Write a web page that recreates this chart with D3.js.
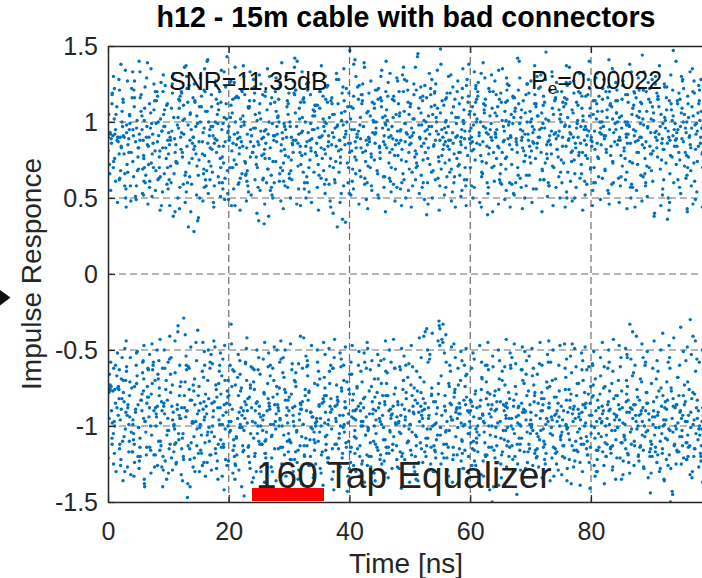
<!DOCTYPE html>
<html><head><meta charset="utf-8">
<script src="https://cdn.jsdelivr.net/npm/d3@7"></script>
<style>html,body{margin:0;padding:0;background:#fff;}svg{display:block;}</style>
</head><body>
<svg id="chart" width="702" height="578"></svg>
<script>
// ---- data (read / estimated from the reference picture) ----
const chartTitle = "h12 - 15m cable with bad connectors";
const xLabel = "Time [ns]";
const yLabel = "Impulse Responce";
const snrText = "SNR=11.35dB";
const peValue = "=0.00022";
const equalizerText = "160 Tap Equalizer";
const xDomain = [0, 100];
const yDomain = [-1.5, 1.5];
const xTickValues = [0, 20, 40, 60, 80];
const yTickValues = [-1.5, -1, -0.5, 0, 0.5, 1, 1.5];
const yTickLabels = ["-1.5", "-1", "-0.5", "0", "0.5", "1", "1.5"];

// first set of samples: times [ns] and equalizer outputs for the +1 / -1 symbols
const sampleTimes = [
.37,.05,.81,.52,.18,.94,.66,.29,
1.73,1.12,1.48,1.91,1.26,1.6,1.03,1.84,
2.55,2.88,2.21,2.09,2.67,2.34,2.97,2.42,
3.16,3.63,3.99,3.31,3.78,3.07,3.45,3.58,
4.82,4.24,4.57,4.4,4.96,4.13,4.71,4.35,
5.08,5.49,5.75,5.19,5.62,5.87,5.3,5.93,
6.44,6.92,6.14,6.68,6.02,6.53,6.79,6.26,
7.61,7.33,7.86,7.04,7.47,7.72,7.17,7.98,
8.27,8.7,8.39,8.85,8.11,8.59,8.95,8.5,
9.9,9.15,9.64,9.23,9.76,9.41,9.06,9.83,
10.37,10.05,10.81,10.52,10.18,10.94,10.66,10.29,
11.73,11.12,11.48,11.91,11.26,11.6,11.03,11.84,
12.55,12.88,12.21,12.09,12.67,12.34,12.97,12.42,
13.16,13.63,13.99,13.31,13.78,13.07,13.45,13.58,
14.82,14.24,14.57,14.4,14.96,14.13,14.71,14.35,
15.08,15.49,15.75,15.19,15.62,15.87,15.3,15.93,
16.44,16.92,16.14,16.68,16.02,16.53,16.79,16.26,
17.61,17.33,17.86,17.04,17.47,17.72,17.17,17.98,
18.27,18.7,18.39,18.85,18.11,18.59,18.95,18.5,
19.9,19.15,19.64,19.23,19.76,19.41,19.06,19.83,
20.37,20.05,20.81,20.52,20.18,20.94,20.66,20.29,
21.73,21.12,21.48,21.91,21.26,21.6,21.03,21.84,
22.55,22.88,22.21,22.09,22.67,22.34,22.97,22.42,
23.16,23.63,23.99,23.31,23.78,23.07,23.45,23.58,
24.82,24.24,24.57,24.4,24.96,24.13,24.71,24.35,
25.08,25.49,25.75,25.19,25.62,25.87,25.3,25.93,
26.44,26.92,26.14,26.68,26.02,26.53,26.79,26.26,
27.61,27.33,27.86,27.04,27.47,27.72,27.17,27.98,
28.27,28.7,28.39,28.85,28.11,28.59,28.95,28.5,
29.9,29.15,29.64,29.23,29.76,29.41,29.06,29.83,
30.37,30.05,30.81,30.52,30.18,30.94,30.66,30.29,
31.73,31.12,31.48,31.91,31.26,31.6,31.03,31.84,
32.55,32.88,32.21,32.09,32.67,32.34,32.97,32.42,
33.16,33.63,33.99,33.31,33.78,33.07,33.45,33.58,
34.82,34.24,34.57,34.4,34.96,34.13,34.71,34.35,
35.08,35.49,35.75,35.19,35.62,35.87,35.3,35.93,
36.44,36.92,36.14,36.68,36.02,36.53,36.79,36.26,
37.61,37.33,37.86,37.04,37.47,37.72,37.17,37.98,
38.27,38.7,38.39,38.85,38.11,38.59,38.95,38.5,
39.9,39.15,39.64,39.23,39.76,39.41,39.06,39.83,
40.37,40.05,40.81,40.52,40.18,40.94,40.66,40.29,
41.73,41.12,41.48,41.91,41.26,41.6,41.03,41.84,
42.55,42.88,42.21,42.09,42.67,42.34,42.97,42.42,
43.16,43.63,43.99,43.31,43.78,43.07,43.45,43.58,
44.82,44.24,44.57,44.4,44.96,44.13,44.71,44.35,
45.08,45.49,45.75,45.19,45.62,45.87,45.3,45.93,
46.44,46.92,46.14,46.68,46.02,46.53,46.79,46.26,
47.61,47.33,47.86,47.04,47.47,47.72,47.17,47.98,
48.27,48.7,48.39,48.85,48.11,48.59,48.95,48.5,
49.9,49.15,49.64,49.23,49.76,49.41,49.06,49.83,
50.37,50.05,50.81,50.52,50.18,50.94,50.66,50.29,
51.73,51.12,51.48,51.91,51.26,51.6,51.03,51.84,
52.55,52.88,52.21,52.09,52.67,52.34,52.97,52.42,
53.16,53.63,53.99,53.31,53.78,53.07,53.45,53.58,
54.82,54.24,54.57,54.4,54.96,54.13,54.71,54.35,
55.08,55.49,55.75,55.19,55.62,55.87,55.3,55.93,
56.44,56.92,56.14,56.68,56.02,56.53,56.79,56.26,
57.61,57.33,57.86,57.04,57.47,57.72,57.17,57.98,
58.27,58.7,58.39,58.85,58.11,58.59,58.95,58.5,
59.9,59.15,59.64,59.23,59.76,59.41,59.06,59.83,
60.37,60.05,60.81,60.52,60.18,60.94,60.66,60.29,
61.73,61.12,61.48,61.91,61.26,61.6,61.03,61.84,
62.55,62.88,62.21,62.09,62.67,62.34,62.97,62.42,
63.16,63.63,63.99,63.31,63.78,63.07,63.45,63.58,
64.82,64.24,64.57,64.4,64.96,64.13,64.71,64.35,
65.08,65.49,65.75,65.19,65.62,65.87,65.3,65.93,
66.44,66.92,66.14,66.68,66.02,66.53,66.79,66.26,
67.61,67.33,67.86,67.04,67.47,67.72,67.17,67.98,
68.27,68.7,68.39,68.85,68.11,68.59,68.95,68.5,
69.9,69.15,69.64,69.23,69.76,69.41,69.06,69.83,
70.37,70.05,70.81,70.52,70.18,70.94,70.66,70.29,
71.73,71.12,71.48,71.91,71.26,71.6,71.03,71.84,
72.55,72.88,72.21,72.09,72.67,72.34,72.97,72.42,
73.16,73.63,73.99,73.31,73.78,73.07,73.45,73.58,
74.82,74.24,74.57,74.4,74.96,74.13,74.71,74.35,
75.08,75.49,75.75,75.19,75.62,75.87,75.3,75.93,
76.44,76.92,76.14,76.68,76.02,76.53,76.79,76.26,
77.61,77.33,77.86,77.04,77.47,77.72,77.17,77.98,
78.27,78.7,78.39,78.85,78.11,78.59,78.95,78.5,
79.9,79.15,79.64,79.23,79.76,79.41,79.06,79.83,
80.37,80.05,80.81,80.52,80.18,80.94,80.66,80.29,
81.73,81.12,81.48,81.91,81.26,81.6,81.03,81.84,
82.55,82.88,82.21,82.09,82.67,82.34,82.97,82.42,
83.16,83.63,83.99,83.31,83.78,83.07,83.45,83.58,
84.82,84.24,84.57,84.4,84.96,84.13,84.71,84.35,
85.08,85.49,85.75,85.19,85.62,85.87,85.3,85.93,
86.44,86.92,86.14,86.68,86.02,86.53,86.79,86.26,
87.61,87.33,87.86,87.04,87.47,87.72,87.17,87.98,
88.27,88.7,88.39,88.85,88.11,88.59,88.95,88.5,
89.9,89.15,89.64,89.23,89.76,89.41,89.06,89.83,
90.37,90.05,90.81,90.52,90.18,90.94,90.66,90.29,
91.73,91.12,91.48,91.91,91.26,91.6,91.03,91.84,
92.55,92.88,92.21,92.09,92.67,92.34,92.97,92.42,
93.16,93.63,93.99,93.31,93.78,93.07,93.45,93.58,
94.82,94.24,94.57,94.4,94.96,94.13,94.71,94.35,
95.08,95.49,95.75,95.19,95.62,95.87,95.3,95.93,
96.44,96.92,96.14,96.68,96.02,96.53,96.79,96.26,
97.61,97.33,97.86,97.04,97.47,97.72,97.17,97.98,
98.27,98.7,98.39,98.85,98.11,98.59,98.95,98.5
];

const upperLevels = [
.92,.9,.91,.89,.93,.74,1.12,.66,
.9,.92,.88,1.21,.61,.9,1.02,.79,
.91,1.34,.83,.68,.9,1.07,.56,.97,
.72,.99,1.16,.85,.48,.93,.8,1.05,
1.01,.64,.87,1.27,.77,.95,.58,1.1,
.83,1.18,.69,.92,1.04,.52,.88,.76,
.97,.61,1.23,.84,.7,1.39,.9,.65,
1.08,.79,.55,.96,.86,1.14,.73,.99,
.62,1.02,.91,.45,1.2,.81,.94,.7,
.88,1.31,.76,1.05,.59,.97,.83,1.12,
.71,.93,.38,1.09,.85,.66,1.25,.9,
1.15,.8,.98,.57,.74,1.03,.89,.43,
.92,.67,1.19,.82,1.36,.77,.54,1.01,
.6,1.06,.86,.31,.95,1.22,.73,.88,
.99,.28,.79,1.13,.65,.9,1.04,.84,
.75,1.17,.93,.5,.87,.69,1.29,.96,
1.07,.83,.62,1,.78,1.41,.91,.58,
.86,.97,1.24,.71,.47,.89,1.1,.8,
.64,1.13,.84,.95,1.05,.76,.6,1.2,
.94,.73,1.02,1.33,.68,.87,.99,.53,
1.11,.88,.56,.81,1.26,.92,.7,1.03,
.79,1,.93,.63,.85,1.16,.45,.9,
.98,.66,1.2,.87,.74,1.04,.83,1.37,
.58,.95,.8,1.09,.91,.68,1.14,.77,
.87,1.23,.72,.96,.35,.84,1.01,.62,
1.06,.78,.9,.55,1.18,.33,.94,.82,
.69,1.12,.86,1,.76,.92,1.3,.6,
.91,.74,1.07,.65,.88,1.2,.52,.97,
1.15,.85,.61,.93,1.03,.7,.89,1.26,
.77,.99,1.1,.82,.57,.95,.73,1.05,
.9,.63,1.19,.86,.97,1.42,.8,.68,
1.02,.88,.71,1.13,.46,.92,1.06,.84,
.6,1.25,.94,.78,1,.67,.87,1.16,
.93,.81,1.08,.54,.89,1.21,.75,.99,
.72,1.04,.86,1.32,.65,.95,1.11,.8,
1.09,.76,.97,.9,1.17,.59,.83,1,
.84,1.14,.62,1.03,.79,.91,.48,1.23,
.96,.7,1.28,.85,1.05,.74,.93,.31,
.67,1.01,.88,.36,1.12,.82,.98,.77,
1.19,.9,.73,1.07,.6,.94,1.35,.86,
.81,1.47,.95,.69,1.02,.87,.56,1.1,
.98,.75,1.15,.83,.92,1.24,.66,.89,
.63,1.06,.8,1.18,.74,.97,.85,1.39,
.9,.58,1,.87,1.13,.71,1.04,.79,
1.22,.86,.68,.96,.83,1.09,.52,.93,
.76,1.03,.91,1.3,.64,.85,1.14,.99,
.95,.7,1.08,.8,1.2,.9,.61,1.01,
.85,1.17,.57,.97,.78,1.05,.89,1.27,
1.04,.82,.94,.66,1.12,.75,1.36,.88,
.69,.99,1.21,.87,.55,.93,1.07,.8,
.91,1.1,.77,1.02,.86,.62,1.25,.96,
1.16,.73,.98,.84,1.43,.9,.7,1.06,
.8,.95,.6,1.14,.89,1.01,.76,.49,
.97,1.28,.85,.72,1.05,.83,1.18,.67,
.74,.88,1.09,.94,.58,1.2,.92,1.03,
1.48,.82,.96,.69,1.11,.87,.78,1,
.88,1.06,.64,1.19,.93,.75,1.31,.84,
1.03,.79,.91,.54,1.15,.99,.86,.71,
.65,1.22,.87,1.01,.8,.95,1.08,.9,
.94,.7,1.13,.83,1.38,.62,.89,1.05,
1.1,.86,.75,.98,.9,1.24,.57,.81,
.78,1.02,.93,.67,1.17,.85,1,.44,
.96,.39,1.12,.87,.73,1.06,.92,1.29,
.83,1.09,.61,.95,1.2,.79,.99,.7,
1.15,.9,.84,1.04,.66,.93,1.34,.76,
.72,.97,1.07,.59,.88,1.13,.8,1.01,
1,.82,1.25,.91,.77,.6,1.05,.89,
.87,1.16,.7,.99,1.09,.85,.53,1.21,
.63,.94,1.03,.81,1.4,.9,.74,1.08,
1.07,.78,.88,1.18,.65,1,.92,.84,
.93,1.27,.76,.86,1.02,.56,1.12,.97,
.8,1.04,.95,.69,.9,1.23,.83,1.06,
1.46,.87,.62,1.11,.79,.96,1.01,.73,
.91,.71,1.14,.85,1.05,.58,.94,1.3,
1.02,.89,.77,1.2,.67,.93,1.08,.82,
.75,1.1,.98,.6,1.16,.84,.9,1.37,
.97,.81,1.03,.92,.5,1.26,.74,.88,
1.13,.66,.9,1.06,.83,.99,1.19,.78,
.86,1.01,.72,.95,1.32,.8,.61,1.09,
.69,1.17,.94,.85,1.04,.76,.97,1.22,
1.05,.9,1.29,.7,.87,1.12,.82,.55,
.92,.77,1,1.15,.64,.96,.86,1.07,
.8,1.23,.89,.97,1.08,.68,1.41,.91,
1.11,.73,.99,.84,.93,1.2,.59,1.02,
.88,1.06,.63,1.14,.78,.95,1.03,.85,
.96,.83,1.18,.71,1,.9,1.27,.67,
.74,1.09,.92,1.33,.86,.57,1.05,.98,
1.04,.87,.8,.95,1.16,.72,.91,1.21,
.65,.98,1.12,.83,.9,1.02,.76,1.44,
.93,1.2,.7,1.07,.84,.97,.6,1.13,
1.01,.79,.94,.4,1.1,.88,1.25,.81,
.86,1.15,.69,.99,.92,1.05,.77,.52,
1.23,.9,1.03,.82,.36,.96,1.14,.73,
.78,1.47,.88,1.08,.95,.66,1.01,.91,
.97,.84,1.19,.62,1.06,.89,.75,1.12,
1.09,.71,.93,1.28,.8,1,.87,.43,
.85,1.04,.77,.96,1.17,.68,1.35,.9,
.94,.82,1.12,.73,.99,1.06,.61,1.21,
1.07,.91,.79,1.15,.86,.98,1.3,.7
];

const lowerLevels = [
-.76,-.75,-.77,-.74,-.95,-.62,-1.08,-.77,
-.74,-.76,-.88,-1.15,-.6,-.75,-.97,-.82,
-.78,-1.02,-.69,-1.26,-.84,-.55,-.91,-1.1,
-.93,-.71,-1.17,-.86,-1.32,-.64,-.99,-.8,
-.67,-1.05,-.89,-.74,-1.2,-.96,-.52,-1.12,
-1.01,-.83,-.58,-1.23,-.9,-.77,-1.08,-.69,
-.85,-1.14,-.97,-.63,-1.38,-.81,-.94,-1.04,
-1.19,-.72,-.88,-1,-.6,-1.27,-.79,-.92,
-.66,-.98,-1.1,-.84,-.5,-1.16,-.9,-.75,
-.95,-1.29,-.7,-.87,-1.06,-.62,-1.4,-.83,
-.78,-1.03,-.91,-1.21,-.56,-.99,-.73,-1.12,
-1.09,-.65,-.86,-.95,-1.25,-.34,-1.02,-.8,
-.29,-.94,-1.15,-.71,-.88,-1.36,-.6,-1.05,
-1.47,-.83,-.97,-.61,-1.11,-.9,-.76,-1.22,
-.92,-1.07,-.45,-1.3,-.8,-.98,-1.13,-.69,
-.74,-1.18,-.89,-1.01,-.64,-1.24,-.85,-.96,
-1.06,-.58,-1.33,-.82,-.94,-.7,-1.1,-.87,
-.84,-1,-.73,-1.19,-.9,-.48,-1.04,-1.28,
-1.12,-.79,-.96,-.67,-1.23,-.88,-.99,-.6,
-.7,-1.14,-.85,-1.42,-.77,-1.02,-.93,-.81,
-.33,-.97,-1.09,-.74,-.86,-1.2,-.63,-1.03,
-.91,-1.26,-.68,-.99,-1.07,-.8,-1.35,-.57,
-1.46,-.86,-1.01,-.75,-.95,-1.17,-.7,-.9,
-.82,-1.05,-.62,-1.13,-.88,-.98,-1.24,-.73,
-1,-.76,-1.3,-.9,-.55,-1.08,-.84,-1.18,
-.87,-1.12,-.93,-.66,-1.03,-.79,-.94,-1.37,
-.72,-.99,-1.21,-.85,-1.1,-.61,-.89,-1.04,
-1.15,-.81,-.92,-1.27,-.7,-.97,-1.06,-.5,
-.9,-1.32,-.75,-1,-.86,-1.14,-.65,-.96,
-1.05,-.68,-.88,-1.19,-.98,-.78,-1.44,-.83,
-.79,-1.09,-1,-.59,-1.22,-.87,-.93,-1.11,
-.96,-.74,-1.16,-.89,-1.03,-1.29,-.71,-.85,
-1.2,-.9,-.62,-1.07,-.8,-.99,-1.13,-.42,
-.83,-1.01,-1.34,-.77,-.94,-.67,-1.09,-.91,
-1.1,-.72,-.97,-1.25,-.86,-1.04,-.58,-.98,
-.69,-1.17,-.84,-.95,-1.39,-.8,-1,-.75,
-.99,-.82,-1.12,-.64,-.91,-1.21,-.87,-1.06,
-.87,-1.3,-.73,-1.02,-.55,-.95,-1.15,-.81,
-1.08,-.77,-.93,-1.18,-.84,-.61,-1.01,-1.27,
-.76,-1.04,-1.43,-.88,-.98,-1.11,-.7,-.92,
-.94,-.66,-1.07,-.83,-1.24,-.9,-.79,-1.14,
-1.13,-.89,-.6,-1,-.75,-1.33,-.96,-.85,
-.81,-1.19,-.97,-.71,-1.06,-.88,-1.26,-.52,
-1.02,-.74,-1.1,-.92,-.84,-1.01,-.63,-1.2,
-.88,-1.36,-.78,-1.05,-.95,-.69,-1.16,-.9,
-.97,-.8,-1.23,-.57,-1.09,-.86,-.99,-1.31,
-1.14,-.93,-.72,-1.03,-.8,-1.18,-.89,-.65,
-.75,-1.07,-.94,-1.28,-.62,-.99,-1.12,-.84,
-1.04,-.86,-1.17,-.76,-.98,-1.41,-.7,-.93,
-.9,-1.22,-.68,-.96,-1.1,-.82,-1,-.59,
-.8,-.99,-1.3,-.87,-.73,-1.06,-.92,-1.19,
-1.11,-.64,-.91,-1.15,-.85,-.97,-1.35,-.78,
-.38,-1.02,-.82,-.95,-1.2,-.71,-1.08,-.89,
-.93,-.75,-1.13,-.53,-1,-.88,-1.25,-.8,
-.31,-.84,-1.06,-.92,-.47,-1.16,-.79,-.98,
-1.01,-.33,-.87,-.67,-1.12,-.9,-.43,-1.04,
-.72,-.96,-1.21,-.85,-.58,-1.03,-.94,-1.29,
-1.07,-.81,-.95,-1.37,-.76,-.89,-1.14,-.62,
-.88,-1.18,-.7,-1,-.92,-1.09,-.83,-1.23,
-.97,-.74,-1.05,-.86,-1.31,-.66,-.99,-.91,
-1.15,-.9,-.79,-1.1,-.84,-1.02,-.56,-1.26,
-.83,-1.04,-.95,-.68,-1.17,-.87,-1.08,-.76,
-1.2,-.78,-1.33,-.93,-.71,-.98,-.86,-1.11,
-.92,-1.5,-.8,-1.06,-.61,-1.14,-.94,-1,
-.69,-1.01,-1.24,-.84,-.97,-.77,-1.39,-.89,
-1.08,-.86,-.73,-1.19,-.9,-1.03,-.64,-.95,
-.95,-1.13,-.88,-.6,-1.27,-.82,-1,-1.1,
-.79,-1.05,-.98,-1.22,-.74,-1.45,-.87,-.93,
-1.12,-.7,-1,-.89,-1.08,-.63,-1.17,-.85,
-.86,-1.28,-.77,-.96,-.54,-1.04,-.91,-1.15,
-1.03,-.91,-1.16,-.73,-.99,-1.21,-.8,-.67,
-.9,-.66,-1.09,-1.34,-.85,-.95,-1.05,-.78,
-1.18,-.97,-.82,-1.02,-.71,-1.12,-.88,-1.25,
-.74,-1.06,-.93,-.58,-1.14,-.85,-1.01,-.96,
-1,-.81,-1.29,-.9,-1.07,-.69,-.94,-1.17,
-.87,-1.13,-.76,-1.04,-.46,-.99,-1.2,-.83,
-1.09,-.92,-1.01,-.79,-1.36,-.88,-.65,-1.05,
-.8,-1.23,-.89,-.97,-1.1,-.72,-1.16,-.94,
-.96,-.7,-1.12,-.86,-1.02,-1.3,-.78,-.91,
-1.14,-.85,-.61,-1.07,-.93,-1.19,-.88,-1.41,
-.73,-1,-.9,-1.26,-.81,-.97,-1.08,-.6,
-.98,-1.16,-.79,-.92,-1.05,-.67,-1.22,-.87,
-1.06,-.84,-1.38,-.75,-.95,-1.11,-.9,-1,
-.89,-.64,-1.03,-1.18,-.82,-.99,-.72,-1.13,
-1.21,-.93,-.86,-1.01,-.55,-1.09,-.96,-.8,
-.77,-1.07,-1.15,-.88,-.99,-.7,-1.32,-.91,
-.33,-.95,-.83,-1.12,-.74,-1.04,-.89,-1.24,
-1.02,-.86,-1.19,-.65,-.97,-.81,-1.1,-.93,
-.92,-1.27,-.71,-1,-1.14,-.88,-.6,-1.06,
-1.1,-.78,-.96,-.85,-1.2,-1.03,-.9,-1.44,
-.84,-1.12,-.69,-1.06,-.94,-.57,-1.17,-.99,
-1.05,-.91,-1.28,-.8,-1.01,-.75,-.93,-1.15,
-.71,-1.02,-.88,-1.35,-.83,-1.08,-1.19,-.96,
-1.5,-.87,-1,-.77,-1.13,-.62,-.95,-1.04,
-.9,-1.16,-.8,-.98,-1.25,-.86,-1.07,-.68,
-1.03,-.73,-1.11,-.93,-.84,-1.22,-.51,-.97,
-.3,-.99,-1.14,-.82,-1.06,-.91,-1.3,-.76,
-.95,-.64,-1.02,-1.2,-.88,-1.09,-.79,-1,
-1.13,-.86,-.97,-.72,-1.18,-.93,-1.05,-1.37
];

// second set of samples
const moreTimes = [
.58,.13,.89,.36,.71,.02,
1.24,1.95,1.47,1.69,1.1,1.81,
2.66,2.31,2.04,2.77,2.52,2.19,
3.93,3.44,3.27,3.08,3.85,3.6,
4.12,4.74,4.39,4.98,4.55,4.21,
5.47,5.06,5.83,5.29,5.64,5.9,
6.35,6.87,6.16,6.53,6.01,6.72,
7.79,7.22,7.61,7.94,7.4,7.07,
8.03,8.5,8.92,8.18,8.67,8.33,
9.86,9.38,9.57,9.11,9.25,9.96,
10.58,10.13,10.89,10.36,10.71,10.02,
11.24,11.95,11.47,11.69,11.1,11.81,
12.66,12.31,12.04,12.77,12.52,12.19,
13.93,13.44,13.27,13.08,13.85,13.6,
14.12,14.74,14.39,14.98,14.55,14.21,
15.47,15.06,15.83,15.29,15.64,15.9,
16.35,16.87,16.16,16.53,16.01,16.72,
17.79,17.22,17.61,17.94,17.4,17.07,
18.03,18.5,18.92,18.18,18.67,18.33,
19.86,19.38,19.57,19.11,19.25,19.96,
20.58,20.13,20.89,20.36,20.71,20.02,
21.24,21.95,21.47,21.69,21.1,21.81,
22.66,22.31,22.04,22.77,22.52,22.19,
23.93,23.44,23.27,23.08,23.85,23.6,
24.12,24.74,24.39,24.98,24.55,24.21,
25.47,25.06,25.83,25.29,25.64,25.9,
26.35,26.87,26.16,26.53,26.01,26.72,
27.79,27.22,27.61,27.94,27.4,27.07,
28.03,28.5,28.92,28.18,28.67,28.33,
29.86,29.38,29.57,29.11,29.25,29.96,
30.58,30.13,30.89,30.36,30.71,30.02,
31.24,31.95,31.47,31.69,31.1,31.81,
32.66,32.31,32.04,32.77,32.52,32.19,
33.93,33.44,33.27,33.08,33.85,33.6,
34.12,34.74,34.39,34.98,34.55,34.21,
35.47,35.06,35.83,35.29,35.64,35.9,
36.35,36.87,36.16,36.53,36.01,36.72,
37.79,37.22,37.61,37.94,37.4,37.07,
38.03,38.5,38.92,38.18,38.67,38.33,
39.86,39.38,39.57,39.11,39.25,39.96,
40.58,40.13,40.89,40.36,40.71,40.02,
41.24,41.95,41.47,41.69,41.1,41.81,
42.66,42.31,42.04,42.77,42.52,42.19,
43.93,43.44,43.27,43.08,43.85,43.6,
44.12,44.74,44.39,44.98,44.55,44.21,
45.47,45.06,45.83,45.29,45.64,45.9,
46.35,46.87,46.16,46.53,46.01,46.72,
47.79,47.22,47.61,47.94,47.4,47.07,
48.03,48.5,48.92,48.18,48.67,48.33,
49.86,49.38,49.57,49.11,49.25,49.96,
50.58,50.13,50.89,50.36,50.71,50.02,
51.24,51.95,51.47,51.69,51.1,51.81,
52.66,52.31,52.04,52.77,52.52,52.19,
53.93,53.44,53.27,53.08,53.85,53.6,
54.12,54.74,54.39,54.98,54.55,54.21,
55.47,55.06,55.83,55.29,55.64,55.9,
56.35,56.87,56.16,56.53,56.01,56.72,
57.79,57.22,57.61,57.94,57.4,57.07,
58.03,58.5,58.92,58.18,58.67,58.33,
59.86,59.38,59.57,59.11,59.25,59.96,
60.58,60.13,60.89,60.36,60.71,60.02,
61.24,61.95,61.47,61.69,61.1,61.81,
62.66,62.31,62.04,62.77,62.52,62.19,
63.93,63.44,63.27,63.08,63.85,63.6,
64.12,64.74,64.39,64.98,64.55,64.21,
65.47,65.06,65.83,65.29,65.64,65.9,
66.35,66.87,66.16,66.53,66.01,66.72,
67.79,67.22,67.61,67.94,67.4,67.07,
68.03,68.5,68.92,68.18,68.67,68.33,
69.86,69.38,69.57,69.11,69.25,69.96,
70.58,70.13,70.89,70.36,70.71,70.02,
71.24,71.95,71.47,71.69,71.1,71.81,
72.66,72.31,72.04,72.77,72.52,72.19,
73.93,73.44,73.27,73.08,73.85,73.6,
74.12,74.74,74.39,74.98,74.55,74.21,
75.47,75.06,75.83,75.29,75.64,75.9,
76.35,76.87,76.16,76.53,76.01,76.72,
77.79,77.22,77.61,77.94,77.4,77.07,
78.03,78.5,78.92,78.18,78.67,78.33,
79.86,79.38,79.57,79.11,79.25,79.96,
80.58,80.13,80.89,80.36,80.71,80.02,
81.24,81.95,81.47,81.69,81.1,81.81,
82.66,82.31,82.04,82.77,82.52,82.19,
83.93,83.44,83.27,83.08,83.85,83.6,
84.12,84.74,84.39,84.98,84.55,84.21,
85.47,85.06,85.83,85.29,85.64,85.9,
86.35,86.87,86.16,86.53,86.01,86.72,
87.79,87.22,87.61,87.94,87.4,87.07,
88.03,88.5,88.92,88.18,88.67,88.33,
89.86,89.38,89.57,89.11,89.25,89.96,
90.58,90.13,90.89,90.36,90.71,90.02,
91.24,91.95,91.47,91.69,91.1,91.81,
92.66,92.31,92.04,92.77,92.52,92.19,
93.93,93.44,93.27,93.08,93.85,93.6,
94.12,94.74,94.39,94.98,94.55,94.21,
95.47,95.06,95.83,95.29,95.64,95.9,
96.35,96.87,96.16,96.53,96.01,96.72,
97.79,97.22,97.61,97.94,97.4,97.07,
98.03,98.5,98.92,98.18,98.67,98.33
];

const moreUpper = [
.86,1.05,.7,.93,1.19,.81,
.95,.63,1.1,.87,.76,1.28,
.79,1,.9,.58,1.13,.84,
1.22,.89,.67,.98,.8,1.04,
.74,.96,1.16,.83,.51,.91,
1.07,.69,.88,1.33,.95,.78,
.9,1.12,.6,.85,1.01,.72,
.81,.99,1.25,.68,.92,1.06,
1.14,.77,.94,.87,.64,1,
.7,1.08,.83,1.2,.97,.56,
.94,.62,1.03,.88,1.3,.79,
.85,1.17,.73,.96,.41,1.09,
1.02,.8,.9,.65,1.11,.93,
.76,1.24,.98,.84,.59,1.05,
.9,.71,1.14,.37,.97,.82,
1.1,.87,.66,1,.79,1.21,
.68,.95,1.07,.86,1.35,.74,
1,.82,.58,1.15,.91,.97,
.88,1.2,.77,.99,.7,1.08,
.93,.63,1.12,.84,1.03,.49,
1.06,.9,.75,1.27,.86,.97,
.72,1.02,.89,.6,1.16,.83,
1.18,.84,.97,.73,1,.66,
.8,1.1,.54,.92,1.22,.87,
.96,.7,1.05,.85,.77,1.14,
.89,1.31,.79,1.02,.62,.94,
1.08,.83,.95,.69,1.17,.76,
.74,.99,1.13,.87,.91,.57,
.92,1.24,.68,1.04,.81,1,
1.12,.78,.9,.61,.97,1.19,
.85,1,1.36,.75,.88,.66,
.97,.72,.86,1.09,1.21,.8,
.79,1.15,.93,.84,.56,1.03,
1.04,.88,.7,1.26,.95,.83,
.67,.96,1.11,.9,.78,1.07,
.91,1.2,.82,.63,1.02,.94,
1.13,.76,.99,.87,1.3,.71,
.84,1.05,.6,.97,.9,1.16,
.98,.73,1.23,.81,1.06,.88,
.7,.92,1,1.14,.85,.53,
1.09,.86,.77,.95,1.38,.8,
.9,1.18,.94,.68,.83,1.03,
.81,.97,1.12,.88,.59,1.25,
1.01,.7,.89,1.07,.93,.77,
.75,1.15,1,.84,1.21,.92,
.96,.8,.64,1.1,.87,1.04,
1.17,.91,.83,.73,.98,1.32,
.88,1.03,.69,.94,1.14,.82,
.78,.95,1.2,.86,.6,1.06,
1.05,.74,.92,1.28,.99,.85,
.93,1.12,.81,.67,1.02,.9,
.71,.98,1.09,.89,.79,1.23,
1,.86,.57,1.16,.94,.75,
.84,1.22,.92,1.04,.68,.97,
1.11,.77,1,.88,1.34,.62,
.9,1.06,.73,.95,.85,1.15,
.97,.69,1.19,.82,1.01,.88,
.76,1.1,.9,1.27,.64,.93,
1.03,.85,.99,.72,1.16,.8,
.89,1.24,.78,.94,.58,1.07,
.82,.96,1.13,.87,1.05,.7,
1.2,.74,.91,1,.86,1.32,
.93,1.08,.66,.84,1.15,.97,
.71,.9,1.04,1.22,.8,.88,
1.06,.83,.95,.6,1.1,.92,
.87,1.19,.76,1.01,.94,.69,
.98,.72,1.14,.85,1.29,.9,
.8,1.03,.89,.65,1.07,1.17,
1.12,.88,.74,.99,.83,.95,
.77,1.25,.92,1.06,.58,1,
.95,.81,1.1,.87,1.18,.73,
1.04,.68,.9,1.31,.86,.96,
.85,1.13,.99,.76,1.02,.62,
.92,.79,1.21,.88,.7,1.09,
1.16,.94,.82,1.05,.91,.57,
.73,1,1.12,.84,.97,1.26,
.89,1.08,.67,.93,1.15,.8,
1.01,.75,.96,1.2,.86,.9,
.8,1.17,.88,.63,1.04,.97,
1.09,.91,1.28,.78,.95,.7,
.94,.84,1.02,1.14,.6,.88,
.76,1.22,.93,.85,1.07,1,
1.03,.69,.97,1.16,.82,.91,
.87,1.1,.78,.95,1.33,.74,
1.14,.9,1,.64,.88,1.06,
.81,1.04,.92,1.24,.76,.98,
.97,.73,1.13,.86,1,.59,
.88,1.19,.8,1.03,.94,1.11,
1.07,.85,.66,.99,1.21,.9,
.79,.96,1.15,.87,.71,1.02,
.93,1.28,.83,1.06,.9,.68,
1.1,.82,.97,.75,1.17,.89,
.86,1.01,.62,.94,1.08,1.23,
.99,.77,1.12,.88,.84,1.04,
.72,1.15,.95,1.3,.8,.93,
1.05,.89,.78,1,.96,.65,
.91,1.2,1.03,.83,.7,1.1,
.84,.98,.74,1.14,.92,1.27,
1.01,.8,1.18,.9,.67,.96
];

const moreLower = [
-.9,-.78,-1.05,-.73,-.98,-1.21,
-.85,-1.12,-.67,-.93,-1,-.76,
-1.07,-.82,-.96,-1.3,-.7,-.89,
-.75,-1.17,-.88,-.61,-1.04,-.94,
-.99,-.72,-1.24,-.86,-.91,-1.09,
-.83,-1.01,-.57,-1.14,-.79,-.95,
-1.19,-.88,-.97,-.74,-1.35,-.81,
-.7,-1.06,-.9,-1,-.63,-1.16,
-.94,-.8,-1.27,-.87,-1.1,-.69,
-1.03,-.92,-.76,-1.2,-.85,-.58,
-.87,-1.15,-1,-.66,-.96,-1.31,
-1.11,-.74,-.89,-1.05,-.44,-.93,
-.8,-1.08,-.95,-.71,-1.22,-.88,
-.98,-.62,-1.13,-.9,-.83,-1.4,
-.73,-1.02,-.86,-1.18,-.97,-.77,
-1.06,-.9,-.68,-.99,-1.26,-.84,
-.92,-1.19,-.79,-1.04,-.6,-1.01,
-1.15,-.85,-1.07,-.76,-.94,-.53,
-.81,-.99,-1.33,-.88,-1.09,-.72,
-1,-.7,-.91,-1.12,-.86,-1.23,
-.89,-1.04,-.64,-.97,-1.16,-.8,
-1.08,-.77,-.95,-1.29,-.73,-1.01,
-.84,-1.13,-.88,-.59,-1.03,-.93,
-.97,-.81,-1.2,-.9,-1.37,-.75,
-.71,-1.05,-.98,-1.1,-.85,-.63,
-1.12,-.92,-.78,-1,-.96,-1.25,
-.9,-.67,-1.09,-.82,-1.18,-.87,
-1.02,-1.3,-.86,-.74,-.99,-1.07,
-.79,-.95,-1.14,-.88,-.56,-1,
-1.17,-.83,-.93,-1.06,-.76,-.9,
-.88,-1.1,-.7,-1.22,-.97,-.81,
-1.04,-.86,-1.35,-.92,-.65,-1.13,
-.76,-.99,-.89,-1.08,-1.19,-.84,
-.94,-1.26,-.78,-.6,-1.02,-.91,
-1.09,-.73,-1,-.87,-.95,-1.16,
-.85,-1.04,-.68,-1.31,-.82,-.98,
-1.21,-.91,-.8,-.96,-1.07,-.72,
-.97,-.62,-1.12,-.86,-1.42,-.89,
-.83,-1,-.93,-1.15,-.75,-1.05,
-1.1,-.88,-.71,-.99,-.84,-1.28,
-.9,-1.17,-1.03,-.66,-.95,-.79,
-.74,-.97,-.87,-1.2,-1.08,-.9,
-1.06,-.82,-1.25,-.94,-.58,-1,
-.89,-1.11,-.77,-1.03,-.92,-1.34,
-1,-.69,-.96,-.85,-1.14,-.81,
-.93,-1.22,-.84,-.72,-1.01,-1.09,
-.8,-.95,-1.18,-.9,-.64,-1.04,
-1.13,-.87,-.98,-1.27,-.79,-.92,
-.86,-1.05,-.7,-.97,-1.2,-.61,
-1.02,-.78,-1.11,-.89,-.94,-1.37,
-.91,-1.16,-.83,-1.04,-.75,-.99,
-.77,-.93,-1.24,-.68,-1.07,-.87,
-1.08,-.41,-.9,-1.13,-.85,-1,
-.84,-1.02,-.56,-.95,-1.3,-.79,
-.99,-.72,-1.09,-.36,-.88,-1.17,
-.45,-1.06,-.8,-.93,-1.21,-.9,
-1.14,-.86,-.97,-.74,-1.03,-.64,
-.88,-1.19,-.91,-1.01,-.78,-.96,
-.73,-.98,-1.28,-.85,-1.1,-.92,
-1.05,-.81,-.9,-1.16,-.67,-1.01,
-.94,-1.11,-.77,-.87,-1.23,-.83,
-1,-.69,-1.06,-.95,-.88,-1.32,
-.82,-1.04,-.92,-1.19,-.6,-.97,
-1.16,-.89,-.79,-1,-1.4,-.86,
-.9,-.76,-1.13,-.84,-.98,-1.07,
-1.03,-1.25,-.87,-.7,-1.09,-.93,
-.78,-.95,-1.01,-1.14,-.85,-.62,
-1.12,-.83,-.94,-.88,-1.2,-1.02,
-.87,-1.08,-.72,-.99,-.91,-1.29,
-.99,-.8,-1.17,-.9,-.66,-1.05,
-.84,-1.01,-.93,-1.26,-.78,-.96,
-1.07,-.9,-.59,-1.03,-1.15,-.82,
-.95,-1.22,-.86,-.75,-.99,-1.1,
-.81,-.94,-1.05,-.88,-1.33,-.7,
-1.18,-.77,-.97,-1.09,-.85,-.92,
-.9,-1.06,-.68,-.96,-1.21,-1,
-.76,-1.13,-.91,-.83,-1.02,-1.38,
-1.04,-.87,-1.16,-.72,-.95,-.89,
-.92,-.63,-1,-1.24,-.86,-1.08,
-.85,-1.1,-.79,-.98,-1.15,-.74,
-1.01,-.93,-1.3,-.8,-.69,-1.05,
-.88,-1.17,-.95,-1.07,-.83,-.97,
-1.12,-.74,-.9,-.86,-1.2,-.61,
-.96,-1.03,-1.14,-.77,-.92,-1.27,
-.8,-.89,-1.01,-1.11,-.7,-.94,
-1.06,-1.35,-.84,-.98,-1.09,-.79,
-.91,-.67,-1.19,-.88,-.55,-1.02,
-1,-1.13,-.76,-1.23,-.93,-.86,
-.83,-.97,-1.07,-.69,-1.16,-.9,
-1.15,-.85,-.92,-1.04,-.78,-1.31,
-.94,-1.2,-.81,-.9,-1.01,-.72,
-.77,-1,-1.1,-.87,-.64,-1.18,
-1.09,-.84,-.96,-1.26,-.89,-.99,
-.88,-1.43,-.75,-1.03,-1.12,-.82,
-1.02,-.91,-.68,-.95,-1.17,-.86,
-.86,-1.07,-1.22,-.8,-.97,-1.11,
-1.13,-.78,-.93,-1.01,-.71,-1.34,
-.9,-1.15,-.83,-.58,-1.05,-.96,
-1.06,-.88,-.99,-1.2,-.76,-1.02
];

// third set of samples (the spread-out edges of both clouds)
const edgeTimes = [
.45,.91,.23,.68, 1.06,1.57,1.33,1.88, 2.79,2.14,2.93,2.48, 3.22,3.71,3.53,3.01, 4.67,4.29,4.86,4.09,
5.34,5.96,5.15,5.72, 6.89,6.41,6.61,6.07, 7.12,7.53,7.84,7.29, 8.63,8.21,8.44,8.78, 9.48,9.03,9.71,9.32,
10.45,10.91,10.23,10.68, 11.06,11.57,11.33,11.88, 12.79,12.14,12.93,12.48, 13.22,13.71,13.53,13.01, 14.67,14.29,14.86,14.09,
15.34,15.96,15.15,15.72, 16.89,16.41,16.61,16.07, 17.12,17.53,17.84,17.29, 18.63,18.21,18.44,18.78, 19.48,19.03,19.71,19.32,
20.45,20.91,20.23,20.68, 21.06,21.57,21.33,21.88, 22.79,22.14,22.93,22.48, 23.22,23.71,23.53,23.01, 24.67,24.29,24.86,24.09,
25.34,25.96,25.15,25.72, 26.89,26.41,26.61,26.07, 27.12,27.53,27.84,27.29, 28.63,28.21,28.44,28.78, 29.48,29.03,29.71,29.32,
30.45,30.91,30.23,30.68, 31.06,31.57,31.33,31.88, 32.79,32.14,32.93,32.48, 33.22,33.71,33.53,33.01, 34.67,34.29,34.86,34.09,
35.34,35.96,35.15,35.72, 36.89,36.41,36.61,36.07, 37.12,37.53,37.84,37.29, 38.63,38.21,38.44,38.78, 39.48,39.03,39.71,39.32,
40.45,40.91,40.23,40.68, 41.06,41.57,41.33,41.88, 42.79,42.14,42.93,42.48, 43.22,43.71,43.53,43.01, 44.67,44.29,44.86,44.09,
45.34,45.96,45.15,45.72, 46.89,46.41,46.61,46.07, 47.12,47.53,47.84,47.29, 48.63,48.21,48.44,48.78, 49.48,49.03,49.71,49.32,
50.45,50.91,50.23,50.68, 51.06,51.57,51.33,51.88, 52.79,52.14,52.93,52.48, 53.22,53.71,53.53,53.01, 54.67,54.29,54.86,54.09,
55.34,55.96,55.15,55.72, 56.89,56.41,56.61,56.07, 57.12,57.53,57.84,57.29, 58.63,58.21,58.44,58.78, 59.48,59.03,59.71,59.32,
60.45,60.91,60.23,60.68, 61.06,61.57,61.33,61.88, 62.79,62.14,62.93,62.48, 63.22,63.71,63.53,63.01, 64.67,64.29,64.86,64.09,
65.34,65.96,65.15,65.72, 66.89,66.41,66.61,66.07, 67.12,67.53,67.84,67.29, 68.63,68.21,68.44,68.78, 69.48,69.03,69.71,69.32,
70.45,70.91,70.23,70.68, 71.06,71.57,71.33,71.88, 72.79,72.14,72.93,72.48, 73.22,73.71,73.53,73.01, 74.67,74.29,74.86,74.09,
75.34,75.96,75.15,75.72, 76.89,76.41,76.61,76.07, 77.12,77.53,77.84,77.29, 78.63,78.21,78.44,78.78, 79.48,79.03,79.71,79.32,
80.45,80.91,80.23,80.68, 81.06,81.57,81.33,81.88, 82.79,82.14,82.93,82.48, 83.22,83.71,83.53,83.01, 84.67,84.29,84.86,84.09,
85.34,85.96,85.15,85.72, 86.89,86.41,86.61,86.07, 87.12,87.53,87.84,87.29, 88.63,88.21,88.44,88.78, 89.48,89.03,89.71,89.32,
90.45,90.91,90.23,90.68, 91.06,91.57,91.33,91.88, 92.79,92.14,92.93,92.48, 93.22,93.71,93.53,93.01, 94.67,94.29,94.86,94.09,
95.34,95.96,95.15,95.72, 96.89,96.41,96.61,96.07, 97.12,97.53,97.84,97.29, 98.63,98.21,98.44,98.78
];

const edgeUpper = [
.55,1.3,.72,1.18, 1.22,.47,1.05,.62, .66,1.38,.5,1.15, 1.27,.58,.95,.44, .49,1.21,.68,1.33,
1.16,.61,1.4,.53, .57,1.29,.46,1.09, 1.35,.7,1.2,.51, .42,1.17,.63,1.26, 1.24,.54,1.11,.66,
.6,1.32,.45,1.19, 1.28,.5,.73,1.14, .47,1.2,1.37,.59, 1.13,.41,.64,1.3, .52,1.25,.35,1.16,
1.31,.57,1.1,.48, .62,1.4,.53,1.2, 1.18,.44,1.27,.67, .51,1.12,.6,1.34, 1.23,.56,1.43,.49,
.45,1.26,.7,1.15, 1.36,.59,1.17,.42, .65,1.21,.48,1.3, 1.1,.52,1.33,.61, .4,1.19,.57,1.28,
1.25,.46,1.12,.63, .55,1.35,.38,1.2, 1.16,.6,1.29,.5, .48,1.22,.66,1.39, 1.3,.43,1.14,.58,
.62,1.18,.5,1.27, 1.21,.56,1.4,.45, .5,1.33,.64,1.13, 1.26,.47,1.18,.6, .57,1.11,.42,1.31,
1.37,.53,1.2,.68, .44,1.24,.59,1.15, 1.12,.62,1.32,.4, .53,1.28,.47,1.19, 1.22,.58,1.1,.34,
.61,1.41,.52,1.17, 1.3,.46,1.23,.64, .49,1.14,.6,1.36, 1.19,.55,1.27,.43, .66,1.21,.5,1.12,
1.34,.41,1.16,.57, .54,1.26,.63,1.4, 1.15,.48,1.29,.59, .45,1.2,.56,1.31, 1.27,.62,1.13,.5,
.58,1.36,.44,1.18, 1.21,.53,1.45,.65, .39,1.17,.6,1.24, 1.32,.5,1.1,.46, .63,1.25,.42,1.19,
1.14,.57,1.38,.52, .48,1.3,.67,1.16, 1.23,.44,1.2,.6, .55,1.12,.51,1.35, 1.28,.62,1.17,.45,
.5,1.22,.58,1.33, 1.15,.47,1.26,.64, .6,1.39,.53,1.11, 1.2,.41,1.31,.57, .46,1.18,.62,1.27,
1.35,.55,1.13,.49, .59,1.24,.44,1.21, 1.16,.6,1.42,.52, .43,1.29,.57,1.14, 1.25,.5,1.19,.65,
.56,1.12,.47,1.37, 1.3,.62,1.22,.41, .51,1.17,.6,1.28, 1.21,.45,1.33,.58, .64,1.26,.5,1.15,
1.13,.54,1.2,.44, .48,1.36,.61,1.24, 1.27,.57,1.11,.5, .42,1.19,.66,1.31, 1.18,.52,1.4,.59,
.6,1.23,.45,1.14, 1.32,.49,1.17,.63, .55,1.28,.53,1.2, 1.12,.6,1.35,.46, .47,1.21,.58,1.26,
1.24,.43,1.15,.62, .57,1.38,.5,1.18, 1.2,.55,1.29,.44, .64,1.13,.48,1.33, 1.26,.58,1.22,.51,
.38,1.19,.61,1.3, 1.15,.45,1.37,.56, .5,1.25,.42,1.16, 1.31,.6,1.21,.47, .57,1.14,.53,1.4,
1.22,.41,1.27,.63, .46,1.33,.58,1.12, 1.19,.54,1.24,.49, .6,1.28,.44,1.17
];

const edgeLower = [
-.58,-1.25,-.66,-1.12, -1.18,-.52,-1.3,-.63, -.49,-1.22,-.7,-1.36, -1.27,-.55,-1.1,-.44, -.6,-1.33,-.51,-1.17,
-1.2,-.47,-1.28,-.65, -.53,-1.14,-.62,-1.4, -1.31,-.58,-1.19,-.46, -.43,-1.26,-.57,-1.13, -1.23,-.62,-1.35,-.5,
-.55,-1.17,-.41,-1.29, -1.12,-.38,-1.24,-.6, -.4,-1.32,-.54,-1.2, -1.38,-.48,-1.15,-.63, -.57,-1.21,-.37,-1.27,
-1.16,-.51,-1.3,-.45, -.62,-1.24,-.5,-1.11, -1.29,-.44,-1.18,-.59, -.52,-1.35,-.64,-1.14, -1.22,-.56,-1.26,-.47,
-.46,-1.13,-.6,-1.31, -1.25,-.53,-1.19,-.66, -.58,-1.4,-.49,-1.16, -1.14,-.61,-1.28,-.42, -.5,-1.2,-.63,-1.34,
-1.3,-.45,-1.12,-.56, -.6,-1.27,-.52,-1.18, -1.21,-.48,-1.36,-.62, -.44,-1.15,-.58,-1.25, -1.33,-.55,-1.1,-.5,
-.63,-1.22,-.46,-1.3, -1.17,-.59,-1.24,-.41, -.54,-1.38,-.61,-1.13, -1.26,-.47,-1.2,-.57, -.5,-1.11,-.64,-1.32,
-1.19,-.53,-1.28,-.45, -.6,-1.24,-.49,-1.16, -1.35,-.43,-1.12,-.62, -.56,-1.29,-.52,-1.21, -1.14,-.6,-1.33,-.48,
-.47,-1.18,-.58,-1.26, -1.3,-.51,-1.15,-.64, -.62,-1.23,-.45,-1.37, -1.2,-.57,-1.27,-.49, -.53,-1.12,-.6,-1.31,
-1.25,-.44,-1.19,-.56, -.58,-1.34,-.5,-1.14, -1.16,-.62,-1.22,-.43, -.49,-1.28,-.63,-1.18, -1.32,-.54,-1.1,-.6,
-.61,-1.2,-.47,-1.27, -1.13,-.42,-1.36,-.55, -.36,-1.24,-.5,-1.17, -1.29,-.39,-1.14,-.58, -.44,-1.21,-.34,-1.3,
-1.18,-.4,-1.25,-.52, -.48,-1.33,-.6,-1.12, -1.22,-.55,-1.19,-.46, -.57,-1.15,-.51,-1.28, -1.35,-.6,-1.2,-.49,
-.52,-1.26,-.62,-1.16, -1.11,-.47,-1.31,-.58, -.6,-1.23,-.45,-1.19, -1.42,-.54,-1.14,-.63, -.5,-1.28,-.57,-1.21,
-1.17,-.43,-1.34,-.61, -.55,-1.2,-.52,-1.13, -1.3,-.59,-1.25,-.46, -.48,-1.16,-.63,-1.37, -1.24,-.51,-1.12,-.57,
-.62,-1.33,-.49,-1.18, -1.2,-.45,-1.27,-.6, -.53,-1.14,-.58,-1.3, -1.36,-.5,-1.21,-.44, -.6,-1.25,-.47,-1.15,
-1.13,-.56,-1.32,-.62, -.46,-1.22,-.54,-1.28, -1.27,-.61,-1.17,-.49, -.57,-1.39,-.52,-1.12, -1.19,-.48,-1.24,-.63,
-.51,-1.16,-.59,-1.33, -1.3,-.55,-1.14,-.45, -.62,-1.26,-.5,-1.2, -1.15,-.43,-1.29,-.58, -.47,-1.21,-.61,-1.35,
-1.23,-.53,-1.11,-.49, -.38,-1.31,-.56,-1.18, -1.26,-.41,-1.2,-.6, -.55,-1.13,-.46,-1.28, -1.34,-.58,-1.17,-.51,
-.44,-1.24,-.62,-1.14, -1.19,-.5,-1.3,-.39, -.58,-1.36,-.47,-1.22, -1.28,-.42,-1.45,-.55, -.6,-1.17,-.35,-1.25,
-1.21,-.48,-1.13,-.57, -.41,-1.32,-.53,-1.2, -1.15,-.56,-1.27,-.44, -.63,-1.23,-.5,-1.31
];

// ---- drawing ----
const W = 702, H = 578;
const plot = { left: 108, right: 711.75, top: 46, bottom: 502 };
const FONT = "'Liberation Sans', Arial, Helvetica, sans-serif";
const INK = "#262626";
const DOT = "#0072BD";

const svg = d3.select("#chart");
svg.append("rect").attr("width", W).attr("height", H).attr("fill", "#fff");

const x = d3.scaleLinear().domain(xDomain).range([plot.left, plot.right]);
const y = d3.scaleLinear().domain(yDomain).range([plot.bottom, plot.top]);

svg.append("defs").append("clipPath").attr("id", "plotClip")
  .append("rect").attr("x", plot.left).attr("y", plot.top)
  .attr("width", plot.right - plot.left).attr("height", plot.bottom - plot.top);

// grid
const grid = svg.append("g").attr("stroke", "#6e6e6e").attr("stroke-width", 1.2)
  .attr("stroke-dasharray", "7,4").attr("fill", "none");
grid.selectAll("line.gx").data(xTickValues.filter(v => v > xDomain[0] && v < xDomain[1]))
  .join("line").attr("class", "gx")
  .attr("x1", d => x(d)).attr("x2", d => x(d))
  .attr("y1", plot.top).attr("y2", plot.bottom);
grid.selectAll("line.gy").data(yTickValues.filter(v => v > yDomain[0] && v < yDomain[1]))
  .join("line").attr("class", "gy")
  .attr("y1", d => y(d)).attr("y2", d => y(d))
  .attr("x1", plot.left).attr("x2", plot.right);

// points
const points = [];
function addSet(times, ups, downs) {
  times.forEach((t, i) => {
    points.push({ t: t, v: ups[i] });
    points.push({ t: t, v: downs[i] });
  });
}
addSet(sampleTimes, upperLevels, lowerLevels);
addSet(moreTimes, moreUpper, moreLower);
addSet(edgeTimes, edgeUpper, edgeLower);

svg.append("g").attr("clip-path", "url(#plotClip)")
  .selectAll("circle").data(points).join("circle")
  .attr("cx", d => x(d.t)).attr("cy", d => y(d.v))
  .attr("r", 1.7).attr("fill", DOT);

// axes
function styleAxis(g) {
  g.selectAll(".domain").attr("stroke", INK).attr("stroke-width", 1.5);
  g.selectAll(".tick line").attr("stroke", INK).attr("stroke-width", 1.2);
  g.selectAll(".tick text").attr("fill", INK).attr("font-family", FONT).attr("font-size", 25);
}
svg.append("g").attr("transform", `translate(0,${plot.bottom})`)
  .call(d3.axisBottom(x).tickValues(xTickValues).tickFormat(d3.format("d"))
    .tickSizeInner(-7).tickSizeOuter(0).tickPadding(20))
  .call(styleAxis);
svg.append("g").attr("transform", `translate(0,${plot.top})`)
  .call(d3.axisTop(x).tickValues(xTickValues).tickFormat("")
    .tickSizeInner(-7).tickSizeOuter(0))
  .call(styleAxis);
svg.append("g").attr("transform", `translate(${plot.left},0)`)
  .call(d3.axisLeft(y).tickValues(yTickValues)
    .tickFormat((d, i) => yTickLabels[i])
    .tickSizeInner(-7).tickSizeOuter(0).tickPadding(10))
  .call(styleAxis);

// title and labels
svg.append("text").attr("x", 406).attr("y", 27).attr("text-anchor", "middle")
  .attr("font-family", FONT).attr("font-weight", "bold").attr("font-size", 28.6)
  .attr("fill", "#000").text(chartTitle);
svg.append("text").attr("x", 406).attr("y", 573).attr("text-anchor", "middle")
  .attr("font-family", FONT).attr("font-size", 28).attr("fill", INK).text(xLabel);
svg.append("text").attr("transform", "translate(41,274) rotate(-90)")
  .attr("text-anchor", "middle").attr("font-family", FONT).attr("font-size", 28)
  .attr("fill", INK).text(yLabel);

// annotations
svg.append("text").attr("x", 169).attr("y", 90).attr("font-family", FONT)
  .attr("font-size", 25).attr("fill", "#111").text(snrText);
const pe = svg.append("text").attr("x", 531).attr("y", 89).attr("font-family", FONT)
  .attr("font-size", 25).attr("fill", "#111");
pe.append("tspan").text("P");
pe.append("tspan").attr("font-size", 17).attr("dy", 5).text("e");
pe.append("tspan").attr("dy", -5).text(peValue);

svg.append("rect").attr("x", 252).attr("y", 488).attr("width", 72).attr("height", 13)
  .attr("fill", "#ff0000");
svg.append("text").attr("x", 256).attr("y", 488).attr("font-family", FONT)
  .attr("font-size", 37).attr("fill", "#222").text(equalizerText);

// marker at left edge
svg.append("path").attr("d", "M0,290 L10.5,297.5 L0,305.5 Z").attr("fill", "#111");
</script>
</body></html>
